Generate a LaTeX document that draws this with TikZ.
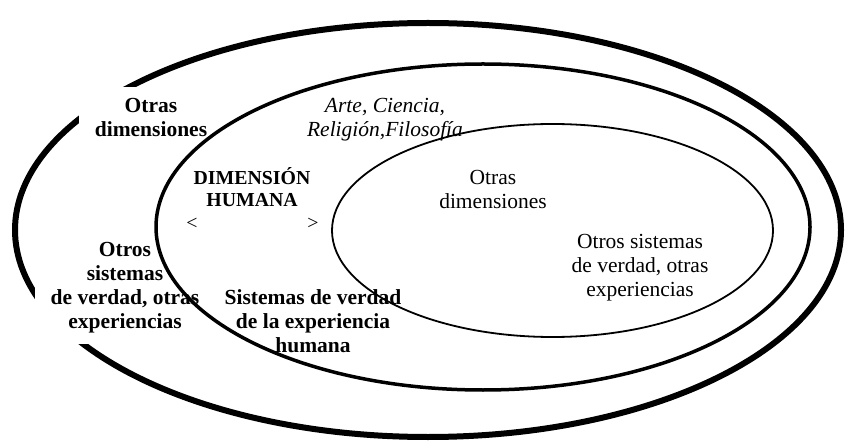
\documentclass[tikz,border=0pt]{standalone}
\usepackage{fontspec}
\setmainfont{Liberation Serif}

\begin{document}
\begin{tikzpicture}[x=1pt,y=-1pt,
  txt/.style={align=center,inner sep=0pt,font=\fontsize{21.5}{24}\selectfont},
  bold/.style={txt,font=\fontsize{21.5}{24}\selectfont\bfseries},
  cutbox/.style={bold,fill=white,inner xsep=16pt,inner ysep=11pt}]
\useasboundingbox (0,0) rectangle (845,443);

% outer ring, cut by the two white boxes
\draw[line width=6pt] (428,230) ellipse [x radius=413pt, y radius=207pt];
\node[cutbox] (1) at (151,117) {Otras\\dimensiones};
\node[cutbox] (2) at (125,287.5) {Otros\\sistemas\\de verdad, otras\\experiencias};

% middle and inner rings
\draw[line width=3.5pt] (483,227) ellipse [x radius=327pt, y radius=163pt];
\draw[line width=1.8pt] (552.5,230.5) ellipse [x radius=220.5pt, y radius=106.5pt];

\node[txt,font=\fontsize{21.5}{24}\selectfont\itshape] (3) at (385,120) {Arte, Ciencia,\\Religión,Filosofía};
\node[bold,font=\fontsize{19.8}{22}\selectfont\bfseries] (4) at (252,187) {DIMENSIÓN\\HUMANA};
\node[txt,font=\fontsize{19.8}{22}\selectfont] (5) at (192,224) {<};
\node[txt,font=\fontsize{19.8}{22}\selectfont] (6) at (313,224) {>};
\node[bold] (7) at (313,321.5) {Sistemas de verdad\\de la experiencia\\humana};
\node[txt] (8) at (493,189) {Otras\\dimensiones};
\node[txt] (9) at (640,268) {Otros sistemas\\de verdad, otras\\experiencias};
\end{tikzpicture}
\end{document}
